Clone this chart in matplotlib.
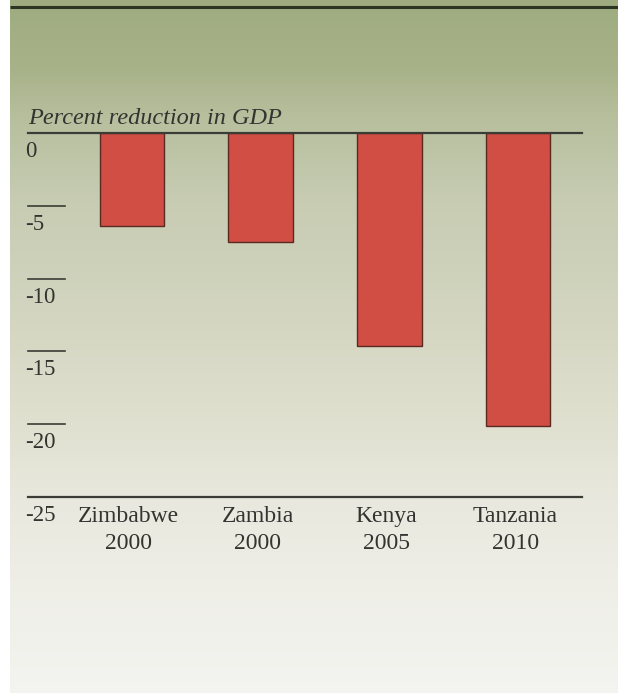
import numpy as np
import matplotlib.pyplot as plt
import matplotlib.transforms as mtransforms
from matplotlib.colors import LinearSegmentedColormap

countries = ["Zimbabwe", "Zambia", "Kenya", "Tanzania"]
years = ["2000", "2000", "2005", "2010"]
reduction = [-6.4, -7.5, -14.6, -20.1]
tick_values = [0, -5, -10, -15, -20, -25]
tick_labels = ["0", "-5", "-10", "-15", "-20", "-25"]

W, H = 618, 693
fig = plt.figure(figsize=(W / 100, H / 100), dpi=100)

# background gradient, green at top fading to off-white
bg = fig.add_axes([10 / W, 0, 1 - 10 / W, 1])
bg_cmap = LinearSegmentedColormap.from_list("bg", [
    (0.00, (0.62, 0.67, 0.50)),
    (0.10, (0.66, 0.70, 0.54)),
    (0.17, (0.72, 0.75, 0.62)),
    (0.29, (0.78, 0.80, 0.70)),
    (0.43, (0.82, 0.83, 0.745)),
    (0.58, (0.87, 0.87, 0.80)),
    (0.72, (0.91, 0.91, 0.87)),
    (0.87, (0.94, 0.94, 0.915)),
    (1.00, (0.955, 0.955, 0.94)),
])
grad = np.linspace(0, 1, 256).reshape(-1, 1)
bg.imshow(grad, aspect="auto", cmap=bg_cmap, extent=[0, 1, 1, 0])
bg.set_axis_off()
# dark rule across the top
bg.plot([0, 1], [7 / H, 7 / H], color="#2e3424", lw=2.2, solid_capstyle="butt")
bg.set_xlim(0, 1)
bg.set_ylim(1, 0)

plt.rcParams["font.family"] = "Liberation Serif"
txt_col = "#333330"

ax = fig.add_axes([28 / W, 1 - 497 / H, 554 / W, 364 / H])
ax.patch.set_alpha(0)
x = np.arange(len(countries))
ax.bar(x, reduction, width=0.5, color="#d04e44", edgecolor="#5a2a22", linewidth=1.0, zorder=3)
ax.set_xlim(-0.806, 3.496)
ax.set_ylim(-25, 0)
for s in ax.spines.values():
    s.set_visible(False)
ax.set_xticks([])
ax.set_yticks([])

blend = mtransforms.blended_transform_factory(ax.transAxes, ax.transData)
for v, lab in zip(tick_values, tick_labels):
    if v in (0, -25):
        ax.plot([0, 1], [v, v], color="#3a3d35", lw=1.6, transform=blend, zorder=4, clip_on=False)
    else:
        ax.plot([0, 37 / 554], [v, v], color="#3a3d35", lw=1.2, transform=blend, zorder=4, clip_on=False)
    off = mtransforms.offset_copy(blend, fig=fig, x=-3, y=-8, units="dots")
    ax.text(0, v, lab, transform=off, ha="left", va="top", fontsize=16.5, color=txt_col)

for i, (c, yr) in enumerate(zip(countries, years)):
    off = mtransforms.offset_copy(ax.transData, fig=fig, x=-3, y=-9, units="dots")
    ax.text(i, -25, c + "\n" + yr, transform=off, ha="center", va="top",
            fontsize=17, color=txt_col, linespacing=1.4)

fig.text(28 / W, 1 - 124 / H, "Percent reduction in GDP", ha="left", va="baseline",
         fontsize=17.5, style="italic", color=txt_col)

fig.savefig("out.png", dpi=100)
